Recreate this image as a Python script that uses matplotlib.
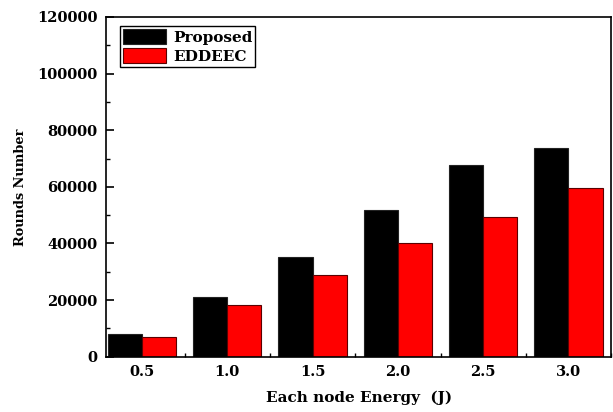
import numpy as np
import matplotlib
matplotlib.use('Agg')
import matplotlib.pyplot as plt
from matplotlib.ticker import MultipleLocator

energy = [0.5, 1.0, 1.5, 2.0, 2.5, 3.0]
energy_labels = ['0.5', '1.0', '1.5', '2.0', '2.5', '3.0']
proposed = [8000, 21000, 35300, 51800, 67600, 73700]
eddeec = [7000, 18300, 29000, 40000, 49500, 59700]

plt.rcParams['font.family'] = 'DejaVu Serif'
plt.rcParams['font.weight'] = 'bold'

fig = plt.figure(figsize=(6.13, 4.12), dpi=100)
ax = fig.add_axes([0.173, 0.134, 0.824, 0.825])

x = np.array(energy)
w = 0.2
ax.bar(x - w/2, proposed, w, color='black', edgecolor='#222222', linewidth=0.8, label='Proposed')
ax.bar(x + w/2, eddeec, w, color='red', edgecolor='#5a0000', linewidth=0.8, label='EDDEEC')

ax.set_xlim(0.29, 3.21)
ax.set_ylim(0, 120000)
ax.set_xticks(x)
ax.set_xticklabels(energy_labels)
ax.set_xticks(x + 0.25, minor=True)
ax.yaxis.set_major_locator(MultipleLocator(20000))
ax.yaxis.set_minor_locator(MultipleLocator(10000))
ax.tick_params(axis='both', which='both', direction='in', labelsize=10.5)
ax.tick_params(axis='y', which='major', length=6, width=1.2, pad=6)
ax.tick_params(axis='y', which='minor', length=3, width=1.0)
ax.tick_params(axis='x', which='major', length=0, pad=6)
ax.tick_params(axis='x', which='minor', length=3, width=1.0)
for lab in ax.get_xticklabels() + ax.get_yticklabels():
    lab.set_fontweight('bold')
for s in ax.spines.values():
    s.set_linewidth(1.2)

ax.set_xlabel('Each node Energy  (J)', fontsize=11, fontweight='bold', labelpad=8)
ax.set_ylabel('Rounds Number', fontsize=9.3, fontweight='bold')
ax.yaxis.set_label_coords(-0.156, 0.5)

leg = ax.legend(loc='upper left', bbox_to_anchor=(0.027, 0.973), fontsize=11,
                frameon=True, fancybox=False, edgecolor='black', framealpha=1,
                handlelength=2.83, handleheight=1.1, labelspacing=0.25,
                borderpad=0.2, handletextpad=0.45, borderaxespad=0)
leg.get_frame().set_linewidth(1.0)
for t in leg.get_texts():
    t.set_fontweight('bold')

fig.savefig('out.png', dpi=100)
